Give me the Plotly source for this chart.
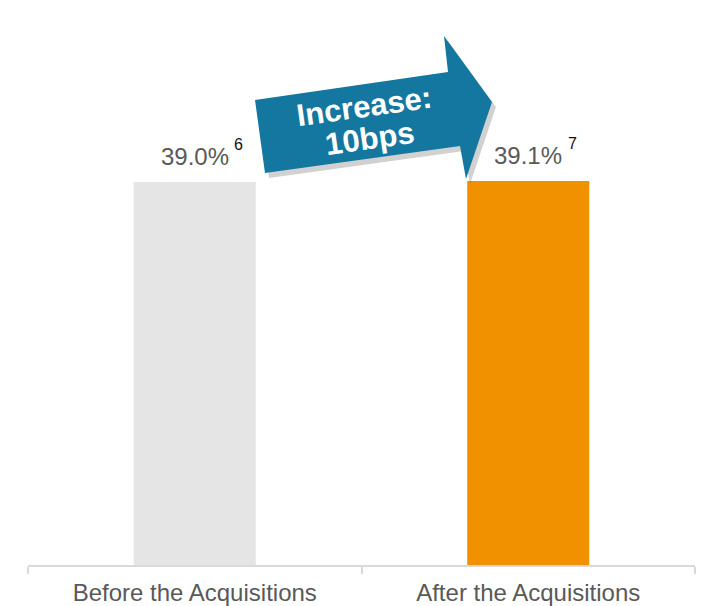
import plotly.graph_objects as go

categories = ["Before the Acquisitions", "After the Acquisitions"]
values = [39.0, 39.1]
value_labels = ["39.0%", "39.1%"]
footnotes = ["6", "7"]
bar_colors = ["#E5E5E5", "#F29100"]
arrow_lines = ["Increase:", "10bps"]

# page body has an 8px margin
OFF = 8
W, H = 705 - 2 * OFF, 606 - OFF
ML, MR, MT, MB = 20, 2, 12, 41
PW, PH = W - ML - MR, H - MT - MB

def px_to_paper(px, py):
    # px, py are screen pixel positions
    return (px - OFF - ML) / PW, (H - MB - (py - OFF)) / PH

arrow_px = [(255, 100), (448, 72), (444, 36), (492, 102), (466, 179), (460, 146), (265, 173)]

def path_from(points, dx=0, dy=0):
    parts = []
    for i, (x, y) in enumerate(points):
        X, Y = px_to_paper(x + dx, y + dy)
        parts.append(("M" if i == 0 else "L") + f"{X:.5f},{Y:.5f}")
    return " ".join(parts) + " Z"

fig = go.Figure()
fig.add_trace(go.Bar(
    x=categories, y=values, marker=dict(color=bar_colors, line=dict(width=0)),
    hoverinfo="skip",
))

FONT = "Liberation Sans, Arial"
annotations = []
for c, v, lab, fn in zip(categories, values, value_labels, footnotes):
    annotations.append(dict(x=c, y=v, xref="x", yref="y", text=lab, showarrow=False,
                            yanchor="bottom", yshift=10,
                            font=dict(family=FONT, size=24, color="#595959")))
    annotations.append(dict(x=c, y=v, xref="x", yref="y", text=fn, showarrow=False,
                            yanchor="bottom", xshift=44, yshift=27,
                            font=dict(family=FONT, size=16, color="#111111")))

for txt, (cx, cy) in zip(arrow_lines, [(364, 106), (370, 139)]):
    tx, ty = px_to_paper(cx, cy)
    annotations.append(dict(x=tx, y=ty, xref="paper", yref="paper", text=txt, showarrow=False,
                            textangle=-8, xanchor="center", yanchor="middle",
                            font=dict(family=FONT, size=31, color="white", weight="bold")))

shapes = [
    dict(type="path", xref="paper", yref="paper", path=path_from(arrow_px, 4, 5),
         fillcolor="rgba(0,0,0,0.18)", line=dict(width=0), layer="above"),
    dict(type="path", xref="paper", yref="paper", path=path_from(arrow_px),
         fillcolor="#13779F", line=dict(width=0), layer="above"),
]

fig.update_layout(
    width=W, height=H,
    margin=dict(l=ML, r=MR, t=MT, b=MB),
    paper_bgcolor="white", plot_bgcolor="white",
    bargap=0.634,
    showlegend=False,
    xaxis=dict(type="category", showline=True, linecolor="#D9D9D9", linewidth=1.5,
               ticks="outside", tickson="boundaries", ticklen=7, tickcolor="#D9D9D9", tickwidth=1.5,
               ticklabelstandoff=5, automargin=False,
               showgrid=False, tickfont=dict(family=FONT, size=24, color="#595959")),
    yaxis=dict(range=[0, 55.5], visible=False, showgrid=False, zeroline=False),
    annotations=annotations,
    shapes=shapes,
)

fig.write_html("out.html")
